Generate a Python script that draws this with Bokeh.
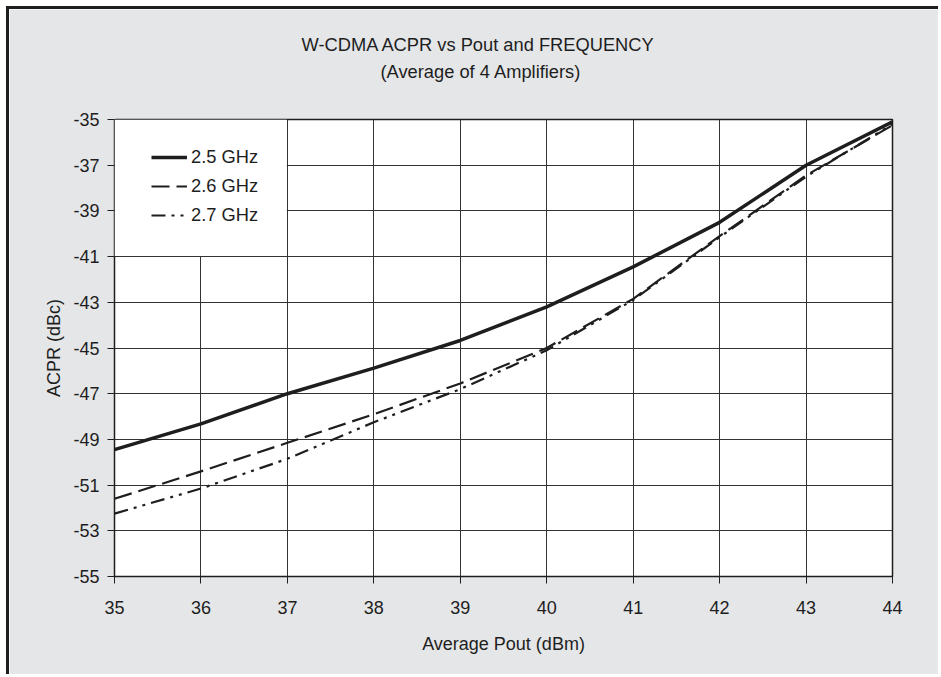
from bokeh.plotting import figure
from bokeh.models import (Range1d, FixedTicker, Legend, LegendItem, Title,
                          BoxAnnotation, LinearAxis)
from bokeh.embed import file_html
from bokeh.resources import INLINE

# ---- data ----
pout = [35, 36, 37, 38, 39, 40, 41, 42, 43, 44]
acpr_25 = [-49.45, -48.32, -47.0, -45.88, -44.67, -43.2, -41.45, -39.5, -37.0, -35.1]
acpr_26 = [-51.6, -50.4, -49.15, -47.9, -46.55, -45.0, -42.85, -40.1, -37.45, -35.25]
acpr_27 = [-52.25, -51.15, -49.85, -48.25, -46.8, -45.1, -42.9, -40.15, -37.5, -35.2]
series_labels = ["2.5 GHz", "2.6 GHz", "2.7 GHz"]
x_ticks = [35, 36, 37, 38, 39, 40, 41, 42, 43, 44]
y_ticks = [-55, -53, -51, -49, -47, -45, -43, -41, -39, -37, -35]
title_1 = "W-CDMA ACPR vs Pout and FREQUENCY"
title_2 = "(Average of 4 Amplifiers)"

FONT = "Liberation Sans"
INK = "#1e1e1e"
BG = "#e5e6e8"

# canvas starts at page (9, 9): 6px white margin + 3px dark frame line
p = figure(width=932, height=668, output_backend="svg", toolbar_location=None,
           x_range=Range1d(35, 44), y_range=Range1d(-55, -35),
           min_border_left=105, min_border_right=49,
           min_border_top=110, min_border_bottom=101,
           styles={"margin-left": "6px", "margin-top": "6px",
                   "border-left": "3px solid #1e1e1e",
                   "border-top": "3px solid #1e1e1e"})
p.title.visible = False
p.background_fill_color = "white"
p.border_fill_color = BG
p.outline_line_color = INK
p.outline_line_width = 1.5

for ax in (p.xaxis, p.yaxis):
    ax.axis_line_color = INK
    ax.major_tick_line_color = INK
    ax.major_tick_out = 7
    ax.major_tick_in = 0
    ax.minor_tick_line_color = None
    ax.major_label_text_font = FONT
    ax.major_label_text_font_size = "18px"
    ax.major_label_text_color = INK
    ax.axis_label_text_font = FONT
    ax.axis_label_text_font_size = "18px"
    ax.axis_label_text_font_style = "normal"
    ax.axis_label_text_color = INK

p.xaxis.ticker = FixedTicker(ticks=x_ticks)
p.yaxis.ticker = FixedTicker(ticks=y_ticks)
p.xaxis.major_label_overrides = {t: str(t) for t in x_ticks}
p.yaxis.major_label_overrides = {t: str(t) for t in y_ticks}
p.xaxis.axis_label = "Average Pout (dBm)"
p.yaxis.axis_label = "ACPR (dBc)"
p.xaxis.major_label_standoff = 17
p.xaxis.axis_label_standoff = 17
p.yaxis.major_label_standoff = 8
p.yaxis.axis_label_standoff = 6

p.grid.grid_line_color = "#333333"
p.grid.grid_line_width = 1
p.xgrid.ticker = FixedTicker(ticks=x_ticks)
p.ygrid.ticker = FixedTicker(ticks=y_ticks)

r1 = p.line(pout, acpr_25, line_color=INK, line_width=3.5)
r2 = p.line(pout, acpr_26, line_color=INK, line_width=2.2, line_dash="18 7")
r3 = p.line(pout, acpr_27, line_color=INK, line_width=2.2, line_dash="14 6 3 6 3 6")

# white legend area hiding the grid
p.add_layout(BoxAnnotation(left=35, right=36.993, bottom=-40.97, top=-35,
                           fill_color="white", fill_alpha=1, line_alpha=0))

legend = Legend(items=[LegendItem(label=series_labels[0], renderers=[r1]),
                       LegendItem(label=series_labels[1], renderers=[r2]),
                       LegendItem(label=series_labels[2], renderers=[r3])],
                location=(27, 340), background_fill_alpha=0, border_line_alpha=0,
                glyph_width=36, glyph_height=22, label_height=22, spacing=7,
                padding=10, label_standoff=4, margin=0,
                label_text_font=FONT, label_text_font_size="18.3px",
                label_text_color=INK)
p.add_layout(legend, "center")

# spacer axis nearest the frame (one tick in the background colour, no label)
spacer = LinearAxis(ticker=FixedTicker(ticks=[35]), major_tick_out=36, major_tick_in=0,
                    major_tick_line_color=BG, major_tick_line_width=1,
                    minor_tick_line_color=None, axis_line_color=None,
                    major_label_standoff=0, major_label_text_font_size="1px",
                    major_label_text_alpha=0)
p.add_layout(spacer, "above")
p.add_layout(Title(text=title_2, align="left", offset=266, standoff=4,
                   text_font=FONT, text_font_size="18.3px",
                   text_font_style="normal", text_color=INK), "above")
p.add_layout(Title(text=title_1, align="left", offset=187, standoff=3,
                   text_font=FONT, text_font_size="18.3px",
                   text_font_style="normal", text_color=INK), "above")

open("out.html", "w").write(file_html(p, INLINE))
